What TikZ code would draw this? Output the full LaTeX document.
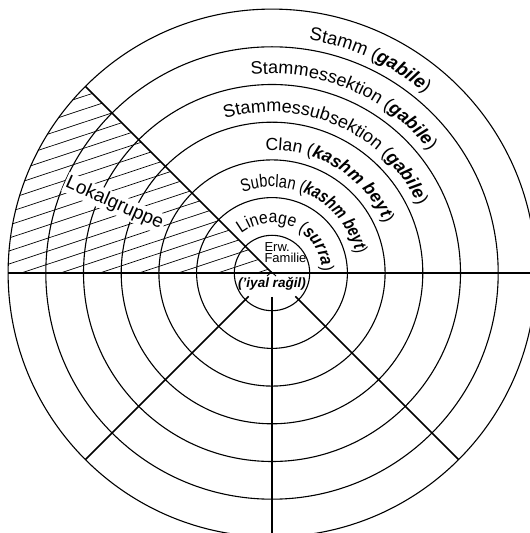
\documentclass[tikz,border=0pt]{standalone}
\usepackage{fontspec}
\setmainfont{Liberation Sans}
\newfontfamily\subclanfont[FakeStretch=0.81]{Liberation Sans}
\newfontfamily\lineagefont[FakeStretch=0.9]{Liberation Sans}
\usetikzlibrary{decorations.text}
\begin{document}
\begin{tikzpicture}[x=1pt,y=1pt,
  ring/.style={line width=1.1pt},
  axisline/.style={line width=1.5pt},
  hatchline/.style={line width=0.7pt},
  arclabel/.style={decorate, decoration={text along path, text align=left}}
]
\useasboundingbox (0,0) rectangle (530,533);
\clip (0,0) rectangle (530,533);
\coordinate (C) at (272,260);
% hatching of the Lokalgruppe sector
\begin{scope}
  \clip (C) -- ([shift={(180:264)}]C) arc[start angle=180,end angle=135,radius=264] -- cycle;
  \foreach \c in {5,18,...,420}
    \draw[hatchline] (0,{260+\c-90}) -- (272,{260+\c});
\end{scope}
% rings
\foreach \k in {1,...,7}
  \draw[ring] (C) circle[radius={37.7*\k}];
% straight lines
\draw[axisline] ([shift={(180:264)}]C) -- ([shift={(0:264)}]C);
\draw[axisline] ([shift={(270:24)}]C) -- ([shift={(270:264)}]C);
\draw[axisline] ([shift={(225:33)}]C) -- ([shift={(225:264)}]C);
\draw[axisline] ([shift={(315:33)}]C) -- ([shift={(315:264)}]C);
\draw[axisline] (C) -- ([shift={(135:264)}]C);
\draw[line width=0.9pt] (267,257) -- (271.5,261) -- (276,257);
% ring labels
\path[arclabel, decoration={text={|\fontsize{18.5}{18}\selectfont|Stamm (|\fontsize{18.5}{18}\selectfont\bfseries\itshape|gabile|\fontsize{18.5}{18}\selectfont\mdseries\upshape|)}}]
  ([shift={(81:236)}]C) arc[start angle=81,end angle=-60,radius=236];
\path[arclabel, decoration={text={|\fontsize{18}{18}\selectfont|Stammessektion (|\fontsize{18}{18}\selectfont\bfseries\itshape|gabile|\fontsize{18}{18}\selectfont\mdseries\upshape|)}}]
  ([shift={(96:199)}]C) arc[start angle=96,end angle=-60,radius=199];
\path[arclabel, decoration={text={|\fontsize{18}{18}\selectfont|Stammessubsektion (|\fontsize{18}{18}\selectfont\bfseries\itshape|gabile|\fontsize{18}{18}\selectfont\mdseries\upshape|)}}]
  ([shift={(107:161)}]C) arc[start angle=107,end angle=-60,radius=161];
\path[arclabel, decoration={text={|\fontsize{17.5}{18}\selectfont|Clan (|\fontsize{17.5}{18}\selectfont\bfseries\itshape|kashm beyt|\fontsize{17.5}{18}\selectfont\mdseries\upshape|)}}]
  ([shift={(93:123)}]C) arc[start angle=93,end angle=-90,radius=123];
\path[arclabel, decoration={text={|\subclanfont\fontsize{18}{18}\selectfont|Subclan (|\subclanfont\fontsize{18}{18}\selectfont\bfseries\itshape|kashm beyt|\subclanfont\fontsize{18}{18}\selectfont\mdseries\upshape|)}}]
  ([shift={(110:86)}]C) arc[start angle=110,end angle=-120,radius=86];
\path[arclabel, decoration={text={|\lineagefont\fontsize{17.5}{18}\selectfont|Lineage (|\lineagefont\fontsize{17.5}{18}\selectfont\bfseries\itshape|surra|\lineagefont\fontsize{17.5}{18}\selectfont\mdseries\upshape|)}}]
  ([shift={(128:50)}]C) arc[start angle=128,end angle=-150,radius=50];
% other labels
\node[fill=white, inner sep=1.5pt, rotate=-24, font=\fontsize{19}{19}\selectfont] (lok) at (114.5,329.5) {Lokalgruppe};
\node[align=left, inner sep=0pt, font=\fontsize{13}{11}\selectfont] (fam) at (285.5,280) {Erw.\\Familie};
\node[inner sep=0pt, font=\fontsize{13.5}{14}\selectfont\bfseries\itshape] (iyal) at (272,249) {('iyal raǧil)};
\end{tikzpicture}
\end{document}
